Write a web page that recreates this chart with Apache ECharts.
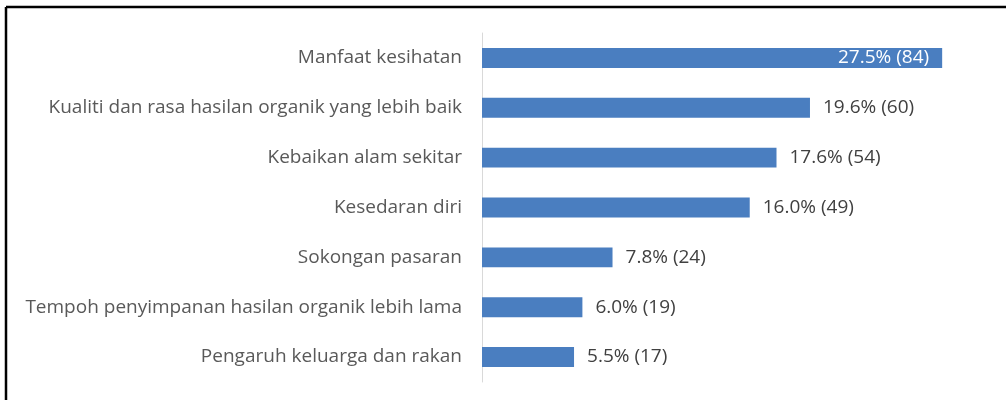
<!DOCTYPE html>
<html>
<head>
<meta charset="utf-8">
<script src="https://cdn.jsdelivr.net/npm/echarts@6/dist/echarts.min.js"></script>
<style>
  html, body { margin: 0; padding: 0; background: #fff; }
  #main { width: 1006px; height: 400px; }
</style>
</head>
<body>
<div id="main"></div>
<script>
  // data
  var categories = [
    'Manfaat kesihatan',
    'Kualiti dan rasa hasilan organik yang lebih baik',
    'Kebaikan alam sekitar',
    'Kesedaran diri',
    'Sokongan pasaran',
    'Tempoh penyimpanan hasilan organik lebih lama',
    'Pengaruh keluarga dan rakan'
  ];
  var percentValues = [27.5, 19.6, 17.6, 16.0, 7.8, 6.0, 5.5];
  var countValues = [84, 60, 54, 49, 24, 19, 17];

  var myChart = echarts.init(document.getElementById('main'));

  var barData = percentValues.map(function (v, i) {
    var item = { value: v };
    // first bar has its label inside in white
    if (i === 0) {
      item.label = { position: 'insideRight', color: '#ffffff', distance: 13 };
    }
    return item;
  });

  var option = {
    animation: false,
    grid: {
      left: 482,
      right: 22,
      top: 33,
      bottom: 18
    },
    xAxis: {
      type: 'value',
      min: 0,
      max: 30,
      show: false
    },
    yAxis: {
      type: 'category',
      inverse: true,
      data: categories,
      axisTick: { show: false },
      axisLine: { lineStyle: { color: '#d9d9d9', width: 1 } },
      axisLabel: {
        margin: 20,
        fontFamily: 'Open Sans',
        fontSize: 19,
        color: '#595959'
      }
    },
    series: [
      {
        type: 'bar',
        data: barData,
        barCategoryGap: '60%',
        itemStyle: { color: '#4a7ec0' },
        label: {
          show: true,
          position: 'right',
          distance: 13,
          fontFamily: 'Open Sans',
          fontSize: 19,
          color: '#404040',
          formatter: function (p) {
            return percentValues[p.dataIndex].toFixed(1) + '% (' + countValues[p.dataIndex] + ')';
          }
        }
      }
    ],
    graphic: [
      // frame lines at the top and left
      { type: 'line', shape: { x1: 6, y1: 7, x2: 1006, y2: 7 }, style: { stroke: '#000', lineWidth: 2.5 } },
      { type: 'line', shape: { x1: 6, y1: 7, x2: 6, y2: 400 }, style: { stroke: '#000', lineWidth: 2.5 } }
    ]
  };

  myChart.setOption(option);
</script>
</body>
</html>
